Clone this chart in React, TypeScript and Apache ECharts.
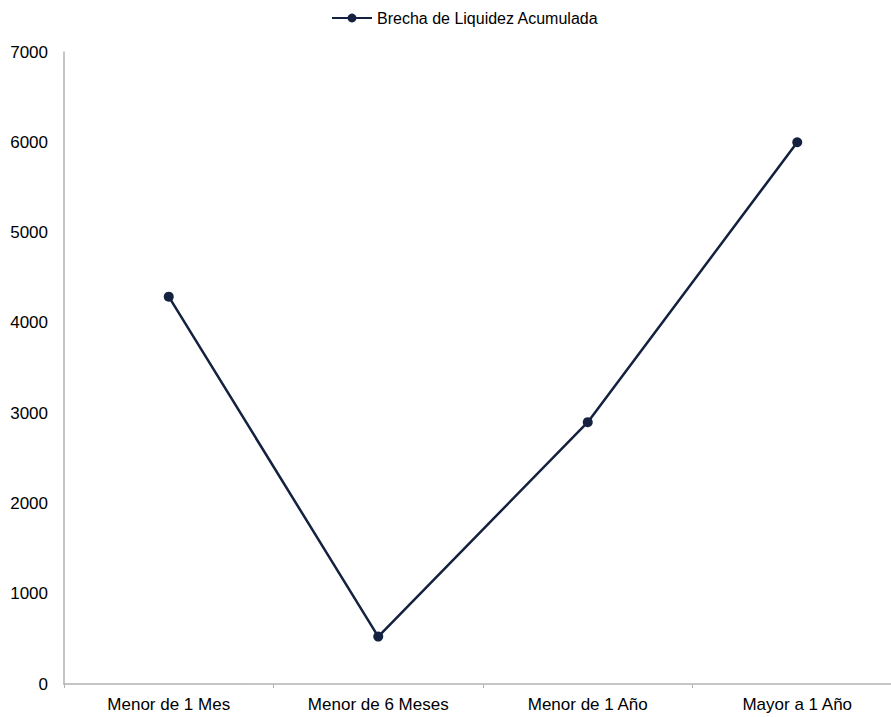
import React, { useEffect, useRef } from "react";
import * as echarts from "echarts";

const categories = ["Menor de 1 Mes", "Menor de 6 Meses", "Menor de 1 Año", "Mayor a 1 Año"];
const seriesName = "Brecha de Liquidez Acumulada";
const values = [4290, 525, 2900, 6000];

export default function App() {
  const ref = useRef<HTMLDivElement>(null);
  useEffect(() => {
    if (!ref.current) return;
    const chart = echarts.init(ref.current, null, { renderer: "svg" });
    const font = "'Liberation Sans', Arial, sans-serif";
    chart.setOption({
      animation: false,
      textStyle: { fontFamily: font },
      legend: {
        top: 5,
        left: 326,
        itemWidth: 40,
        itemHeight: 11,
        itemGap: 4,
        textStyle: { fontSize: 16, color: "#000", fontFamily: font },
        data: [seriesName],
      },
      grid: { left: 64, right: 0, top: 52, bottom: 33, containLabel: false },
      xAxis: {
        type: "category",
        data: categories,
        boundaryGap: true,
        axisLine: { lineStyle: { color: "#b3b3b3", width: 1.5 } },
        axisTick: { show: true, length: 4, lineStyle: { color: "#b3b3b3" } },
        axisLabel: { color: "#000", fontSize: 17, margin: 12, fontFamily: font },
      },
      yAxis: {
        type: "value",
        min: 0,
        max: 7000,
        interval: 1000,
        axisLine: { show: true, lineStyle: { color: "#b3b3b3", width: 1.5 } },
        axisTick: { show: false },
        splitLine: { show: false },
        axisLabel: {
          color: "#000",
          fontSize: 17,
          margin: 16,
          fontFamily: font,
          formatter: (v: number) => String(v),
        },
      },
      series: [
        {
          name: seriesName,
          type: "line",
          data: values,
          symbol: "circle",
          symbolSize: 10,
          lineStyle: { color: "#14213f", width: 2.5 },
          itemStyle: { color: "#14213f" },
        },
      ],
    });
    return () => chart.dispose();
  }, []);
  return (
    <div style={{ width: 891, height: 717, position: "absolute", left: 0, top: 0, overflow: "hidden" }}>
      <div ref={ref} style={{ width: 902, height: 717, position: "absolute", left: 0, top: 0 }} />
    </div>
  );
}
